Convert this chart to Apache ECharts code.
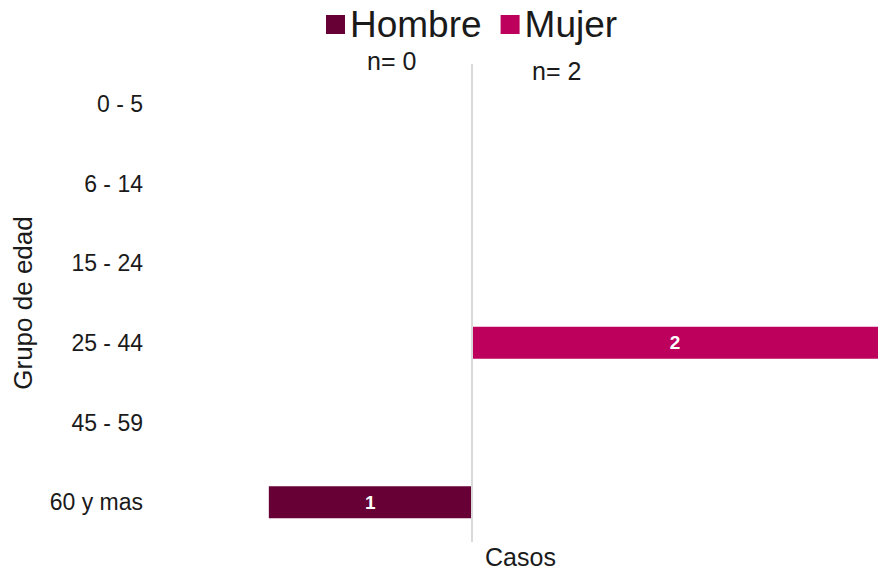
<!DOCTYPE html>
<html>
<head>
<meta charset="utf-8">
<script src="https://cdn.jsdelivr.net/npm/echarts@6/dist/echarts.min.js"></script>
<style>
  html, body { margin: 0; padding: 0; background: #ffffff; }
  #chart { width: 879px; height: 570px; }
</style>
</head>
<body>
<div id="chart"></div>
<script>
const categories = ["0 - 5", "6 - 14", "15 - 24", "25 - 44", "45 - 59", "60 y mas"];
const hombre = [0, 0, 0, 0, 0, 1];
const mujer = [0, 0, 0, 2, 0, 0];
const seriesNames = ["Hombre", "Mujer"];
const countLabels = ["n= 0", "n= 2"];

const FONT = "'Liberation Sans', Arial, sans-serif";
const HOMBRE_COLOR = "#670035";
const MUJER_COLOR = "#bc005c";

// zero rows draw nothing, and men go to the left of the axis
function toBars(values, sign) {
  return values.map((v) => (v === 0 ? "-" : sign * v));
}

const barLabel = {
  show: true,
  position: "inside",
  color: "#ffffff",
  fontSize: 19,
  fontWeight: "bold",
  fontFamily: FONT,
  formatter: (params) => String(Math.abs(params.value)),
};

const chart = echarts.init(document.getElementById("chart"), null, { renderer: "svg" });

chart.setOption({
  animation: false,
  textStyle: { fontFamily: FONT },
  legend: {
    top: 1,
    left: 321,
    itemWidth: 19,
    itemHeight: 19,
    itemGap: 19,
    icon: "rect",
    textStyle: { fontSize: 37, color: "#1a1a1a", fontFamily: FONT },
    data: seriesNames,
  },
  graphic: [
    {
      type: "text",
      left: 367,
      top: 48,
      style: { text: countLabels[0], fontSize: 25, fill: "#1a1a1a", fontFamily: FONT },
    },
    {
      type: "text",
      left: 532,
      top: 58,
      style: { text: countLabels[1], fontSize: 25, fill: "#1a1a1a", fontFamily: FONT },
    },
  ],
  grid: {
    top: 64,
    bottom: 28,
    left: 147,
    right: 1,
    containLabel: false,
    outerBoundsMode: "none",
  },
  xAxis: {
    type: "value",
    min: -1.6,
    max: 2,
    axisLabel: { show: false },
    axisTick: { show: false },
    axisLine: { show: false },
    splitLine: { show: false },
    name: "Casos",
    nameLocation: "middle",
    nameGap: 2,
    nameTextStyle: { fontSize: 25, color: "#1a1a1a", fontFamily: FONT, padding: [0, 0, 0, 16] },
  },
  yAxis: {
    type: "category",
    inverse: true,
    data: categories,
    axisTick: { show: false },
    axisLine: { show: false },
    axisLabel: { fontSize: 23, color: "#1a1a1a", fontFamily: FONT, margin: 4 },
    name: "Grupo de edad",
    nameLocation: "middle",
    nameGap: 111,
    nameRotate: 90,
    nameTextStyle: { fontSize: 26, color: "#1a1a1a", fontFamily: FONT },
  },
  series: [
    {
      name: seriesNames[0],
      type: "bar",
      data: toBars(hombre, -1),
      barWidth: 32,
      barGap: "-100%",
      itemStyle: { color: HOMBRE_COLOR },
      label: barLabel,
      markLine: {
        silent: true,
        symbol: "none",
        label: { show: false },
        lineStyle: { color: "#d9d9d9", width: 2, type: "solid" },
        data: [{ xAxis: 0 }],
      },
    },
    {
      name: seriesNames[1],
      type: "bar",
      data: toBars(mujer, 1),
      barWidth: 32,
      itemStyle: { color: MUJER_COLOR },
      label: barLabel,
    },
  ],
});
</script>
</body>
</html>
